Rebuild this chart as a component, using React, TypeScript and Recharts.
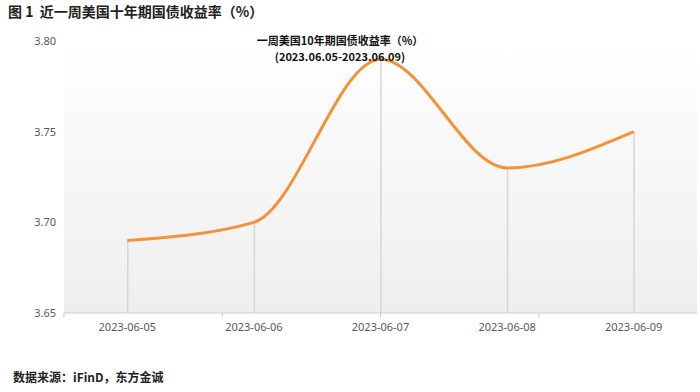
import React from "react";
import { ComposedChart, Line, Bar, XAxis, YAxis, CartesianGrid } from "recharts";

const dates = ["2023-06-05", "2023-06-06", "2023-06-07", "2023-06-08", "2023-06-09"];
const yields = [3.69, 3.7, 3.79, 3.73, 3.75];
const yTicks = [3.65, 3.7, 3.75, 3.8];
const edgeTicks = [0, 1, 2, 3, 4, 5];

const data = dates.map((date, i) => ({ date, value: yields[i] }));

const cjk = '"Noto Sans CJK SC", "Noto Sans", sans-serif';
const tickStyle = { fontSize: 11, fill: "#595959", fontFamily: '"Noto Sans", "Liberation Sans", sans-serif' };

const EmptyTick = () => <g />;

const innerTitle: React.CSSProperties = {
  position: "absolute",
  left: 240,
  width: 200,
  height: 13,
  textAlign: "center",
  fontFamily: cjk,
  fontWeight: "bold",
  fontSize: 11,
  lineHeight: "13px",
  color: "#111",
  whiteSpace: "nowrap",
};

export default function App() {
  return (
    <div style={{ position: "absolute", left: 0, top: 0, width: 700, height: 392, background: "#fff" }}>
      <ComposedChart
        width={700}
        height={392}
        data={data}
        margin={{ top: 41, right: 3, bottom: 49, left: 0 }}
      >
        <defs>
          <linearGradient id="bg" x1="0" y1="0" x2="0" y2="1">
            <stop offset="0%" stopColor="#ffffff" />
            <stop offset="100%" stopColor="#eeeeee" />
          </linearGradient>
        </defs>
        <CartesianGrid horizontal={false} vertical={false} fill="url(#bg)" />
        {/* boundary ticks between dates, sits right on the plot edge */}
        <XAxis
          type="number"
          domain={[0, 5]}
          ticks={edgeTicks}
          tick={EmptyTick}
          tickSize={4}
          tickLine={{ stroke: "#c8c8c8" }}
          axisLine={{ stroke: "#d0d0d0" }}
          height={6}
        />
        <XAxis
          xAxisId="cat"
          dataKey="date"
          tick={tickStyle}
          tickLine={false}
          axisLine={false}
          height={24}
          tickSize={4}
          tickMargin={0}
        />
        <YAxis
          domain={[3.65, 3.8]}
          ticks={yTicks}
          tickFormatter={(v: number) => v.toFixed(2)}
          tick={tickStyle}
          axisLine={false}
          tickLine={false}
          width={64}
          allowDataOverflow
        />
        <Bar xAxisId="cat" dataKey="value" barSize={1.5} fill="#d6d6d6" isAnimationActive={false} />
        <Line
          xAxisId="cat"
          type="monotone"
          dataKey="value"
          stroke="#f39237"
          strokeWidth={3}
          dot={false}
          activeDot={false}
          isAnimationActive={false}
        />
      </ComposedChart>
      <div
        style={{
          position: "absolute",
          left: 8,
          top: 1,
          fontFamily: cjk,
          fontWeight: "bold",
          fontSize: 14,
          color: "#222",
          whiteSpace: "nowrap",
        }}
      >
        图 1&nbsp;&nbsp;近一周美国十年期国债收益率（%）
      </div>
      <div style={{ ...innerTitle, top: 34 }}>一周美国10年期国债收益率（%）</div>
      <div style={{ ...innerTitle, top: 50 }}>(2023.06.05-2023.06.09)</div>
      <div
        style={{
          position: "absolute",
          left: 13,
          top: 368,
          fontFamily: cjk,
          fontWeight: "bold",
          fontSize: 12,
          color: "#222",
          whiteSpace: "nowrap",
        }}
      >
        数据来源：iFinD，东方金诚
      </div>
    </div>
  );
}
